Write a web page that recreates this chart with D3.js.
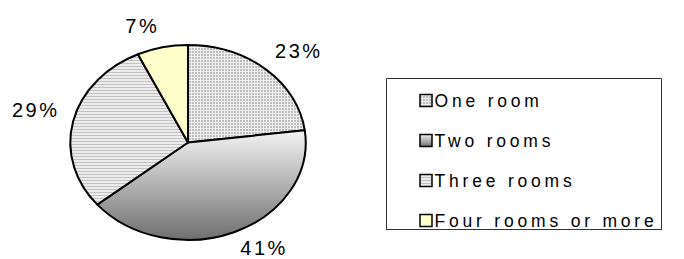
<!DOCTYPE html>
<html>
<head>
<meta charset="utf-8">
<script src="https://cdn.jsdelivr.net/npm/d3@7/dist/d3.min.js"></script>
<style>
  body { margin: 0; background: #fff; }
  svg { display: block; font-family: "Liberation Sans", Arial, sans-serif; }
</style>
</head>
<body>
<svg id="chart" width="684" height="259"></svg>
<script>
// share of dwellings by number of rooms
var categories = ['One room', 'Two rooms', 'Three rooms', 'Four rooms or more'];
var values = [23, 41, 29, 7];
var labels = ['23%', '41%', '29%', '7%'];
var fills = ['url(#grid)', 'url(#shade)', 'url(#stripes)', '#ffffcc'];
var legendFills = ['url(#grid)', 'url(#shadeBox)', 'url(#stripes)', '#ffffcc'];

var svg = d3.select('#chart');
var cx = 188, cy = 142.5, rx = 117.7, ry = 97.5;

var defs = svg.append('defs');

// fine grid fill for "One room"
var grid = defs.append('pattern').attr('id', 'grid')
  .attr('patternUnits', 'userSpaceOnUse').attr('width', 3).attr('height', 3);
grid.append('rect').attr('width', 3).attr('height', 3).attr('fill', '#efefef');
grid.append('rect').attr('width', 2).attr('height', 2).attr('fill', '#bdbdbd');

// horizontal hairlines for "Three rooms"
var stripes = defs.append('pattern').attr('id', 'stripes')
  .attr('patternUnits', 'userSpaceOnUse').attr('width', 4).attr('height', 3);
stripes.append('rect').attr('width', 4).attr('height', 3).attr('fill', '#ececec');
stripes.append('rect').attr('width', 4).attr('height', 1).attr('fill', '#c2c2c2');

// vertical shading for "Two rooms"
var shade = defs.append('linearGradient').attr('id', 'shade')
  .attr('gradientUnits', 'userSpaceOnUse')
  .attr('x1', 0).attr('x2', 0).attr('y1', 128).attr('y2', 242);
shade.append('stop').attr('offset', 0).attr('stop-color', '#f6f6f6');
shade.append('stop').attr('offset', 1).attr('stop-color', '#6c6c6c');

var shadeBox = defs.append('linearGradient').attr('id', 'shadeBox')
  .attr('x1', 0).attr('x2', 0).attr('y1', 0).attr('y2', 1);
shadeBox.append('stop').attr('offset', 0).attr('stop-color', '#f0f0f0');
shadeBox.append('stop').attr('offset', 1).attr('stop-color', '#707070');

var pie = d3.pie().sort(null).value(function(d) { return d; });
var arcs = pie(values);

function pt(a, ex, ey) {
  return [cx + ex * Math.sin(a), cy - ey * Math.cos(a)];
}

function slicePath(d) {
  var p0 = pt(d.startAngle, rx, ry), p1 = pt(d.endAngle, rx, ry);
  var large = (d.endAngle - d.startAngle) > Math.PI ? 1 : 0;
  return 'M' + cx + ',' + cy + 'L' + p0[0] + ',' + p0[1] +
    'A' + rx + ',' + ry + ' 0 ' + large + ' 1 ' + p1[0] + ',' + p1[1] + 'Z';
}

svg.append('g').selectAll('path')
  .data(arcs)
  .enter().append('path')
  .attr('d', slicePath)
  .attr('fill', function(d, i) { return fills[i]; })
  .attr('stroke', '#000')
  .attr('stroke-width', 2)
  .attr('stroke-linejoin', 'round');

// percent labels outside the ellipse
svg.append('g').selectAll('text')
  .data(arcs)
  .enter().append('text')
  .each(function(d, i) {
    var mid = (d.startAngle + d.endAngle) / 2;
    var p = pt(mid, rx + 14, ry + 14);
    var below = Math.cos(mid) < 0;
    d3.select(this)
      .attr('x', p[0])
      .attr('y', below ? Math.min(p[1] + 15, 255) : p[1] - 1)
      .attr('text-anchor', Math.sin(mid) >= 0 ? 'start' : 'end')
      .attr('font-size', 20)
      .attr('letter-spacing', 2.5)
      .attr('fill', '#000')
      .text(labels[i]);
  });

// legend
var legend = svg.append('g');
legend.append('rect')
  .attr('x', 386.5).attr('y', 78.5).attr('width', 275).attr('height', 151)
  .attr('fill', '#fff').attr('stroke', '#333').attr('stroke-width', 1);

var rowY = d3.scalePoint().domain(categories).range([106.5, 226.5]);

var items = legend.selectAll('g.item')
  .data(categories)
  .enter().append('g').attr('class', 'item');

items.append('rect')
  .attr('x', 420).attr('y', function(d) { return rowY(d) - 12; })
  .attr('width', 12).attr('height', 12)
  .attr('fill', function(d, i) { return legendFills[i]; })
  .attr('stroke', '#000').attr('stroke-width', 1.5);

items.append('text')
  .attr('x', 434.5).attr('y', function(d) { return rowY(d); })
  .attr('font-size', 17.5)
  .attr('letter-spacing', 3.8)
  .attr('fill', '#000')
  .text(function(d) { return d; });
</script>
</body>
</html>
